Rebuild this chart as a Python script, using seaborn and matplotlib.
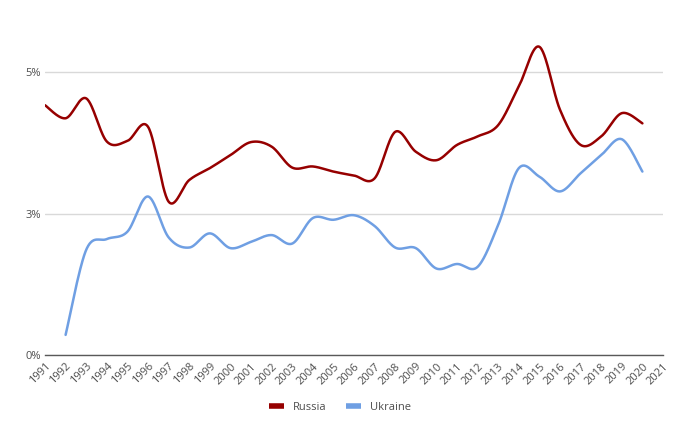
import numpy as np
import pandas as pd
import matplotlib
matplotlib.use("Agg")
import matplotlib.pyplot as plt
import seaborn as sns
from matplotlib.lines import Line2D

years_axis = list(range(1991, 2022))
russia_years = list(range(1991, 2021))
russia = [4.41, 4.18, 4.53, 3.77, 3.78, 4.03, 2.71, 3.09, 3.30, 3.53, 3.76, 3.68,
          3.31, 3.33, 3.24, 3.17, 3.12, 3.94, 3.59, 3.44, 3.71, 3.86, 4.06, 4.74,
          5.44, 4.33, 3.71, 3.86, 4.27, 4.09]
ukraine_years = list(range(1992, 2021))
ukraine = [0.36, 1.86, 2.05, 2.18, 2.80, 2.08, 1.90, 2.15, 1.89, 2.00, 2.12, 1.97,
           2.42, 2.39, 2.47, 2.28, 1.90, 1.89, 1.53, 1.61, 1.56, 2.30, 3.30, 3.15,
           2.89, 3.21, 3.53, 3.81, 3.24]
y_ticks = [0, 2.5, 5]
y_labels = ["0%", "3%", "5%"]


def smooth(xs, ys, n=30):
    """Excel-like smoothed rendering of a line through the given points."""
    x = np.asarray(xs, float)
    y = np.asarray(ys, float)
    px = np.concatenate([[x[0]], x, [x[-1]]])
    py = np.concatenate([[y[0]], y, [y[-1]]])
    ox, oy = [], []
    t = np.linspace(0, 1, n, endpoint=False)
    for i in range(1, len(px) - 2):
        p0, p1, p2, p3 = py[i - 1], py[i], py[i + 1], py[i + 2]
        q0, q1, q2, q3 = px[i - 1], px[i], px[i + 1], px[i + 2]
        c1y = p1 + (p2 - p0) / 6
        c2y = p2 - (p3 - p1) / 6
        c1x = q1 + (q2 - q0) / 6
        c2x = q2 - (q3 - q1) / 6
        bx = (1 - t) ** 3 * q1 + 3 * (1 - t) ** 2 * t * c1x + 3 * (1 - t) * t ** 2 * c2x + t ** 3 * q2
        by = (1 - t) ** 3 * p1 + 3 * (1 - t) ** 2 * t * c1y + 3 * (1 - t) * t ** 2 * c2y + t ** 3 * p2
        ox.extend(bx)
        oy.extend(by)
    ox.append(x[-1])
    oy.append(y[-1])
    return np.array(ox), np.array(oy)


sns.set_theme(style="white")
plt.rcParams["font.family"] = ["Open Sans", "DejaVu Sans"]

fig = plt.figure(figsize=(6.9, 4.33), dpi=100)
ax = fig.add_axes([45 / 690, 77.7 / 433, (663 - 45) / 690, (355.3 - 40) / 433])

rx, ry = smooth(russia_years, russia)
ux, uy = smooth(ukraine_years, ukraine)
df = pd.concat([
    pd.DataFrame({"year": rx, "value": ry, "country": "Russia"}),
    pd.DataFrame({"year": ux, "value": uy, "country": "Ukraine"}),
])
palette = {"Russia": "#960000", "Ukraine": "#6f9fe3"}
sns.lineplot(data=df, x="year", y="value", hue="country", palette=palette,
             estimator=None, sort=False, linewidth=1.8, ax=ax, legend=False)

ax.set_xlim(1991, 2021)
ax.set_ylim(0, 5.56)
ax.set_yticks(y_ticks)
ax.set_yticklabels(y_labels)
ax.set_xticks(years_axis)
ax.set_xticklabels([str(y) for y in years_axis], rotation=45, ha="right",
                   rotation_mode="anchor")
ax.tick_params(axis="both", labelsize=8, colors="#4d4d4d", length=0, pad=3)
ax.tick_params(axis="x", pad=4)
ax.grid(axis="y", color="#d9d9d9", linewidth=1)
ax.grid(axis="x", visible=False)
for s in ["top", "right", "left"]:
    ax.spines[s].set_visible(False)
ax.spines["bottom"].set_color("#595959")
ax.spines["bottom"].set_linewidth(1)
ax.set_xlabel("")
ax.set_ylabel("")

handles = [Line2D([], [], color=palette["Russia"], linewidth=4, solid_capstyle="butt"),
           Line2D([], [], color=palette["Ukraine"], linewidth=4, solid_capstyle="butt")]
fig.legend(handles, ["Russia", "Ukraine"], loc="center", bbox_to_anchor=(340 / 690, 1 - 407 / 433),
           ncol=2, frameon=False, fontsize=8, handlelength=1.3, handletextpad=0.8,
           columnspacing=1.8, labelcolor="#4d4d4d")

fig.savefig("out.png", dpi=100, facecolor="white")
